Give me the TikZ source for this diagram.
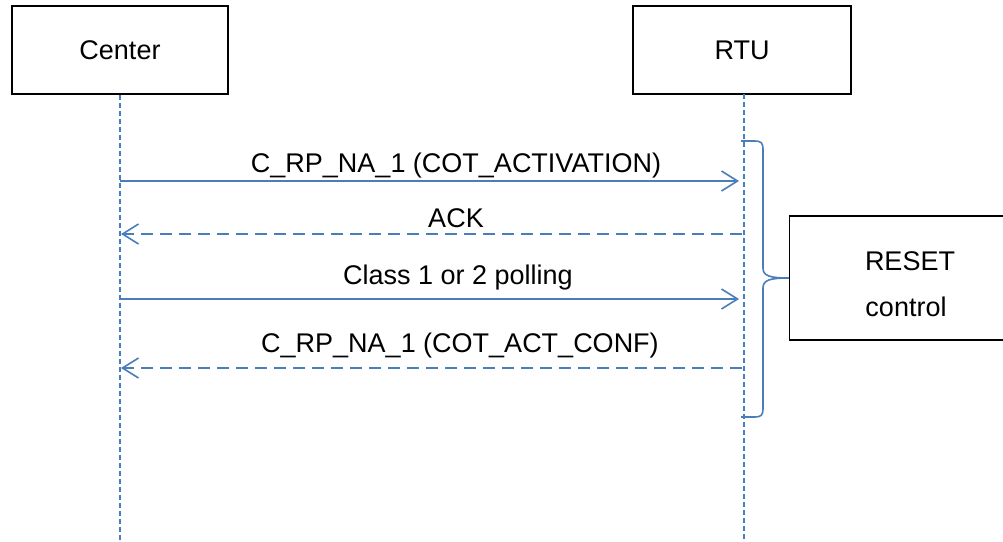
\documentclass[tikz,border=0pt]{standalone}
\usepackage{fontspec}
\setmainfont{Liberation Sans}
\usetikzlibrary{arrows.meta}
\definecolor{seqblue}{HTML}{4A7EBB}
\begin{document}
\begin{tikzpicture}[x=1pt,y=-1pt,
  actor/.style={draw=black,line width=1.4pt,minimum width=216pt,minimum height=88pt,inner sep=0pt,font=\fontsize{27}{30}\selectfont},
  lifeline/.style={draw=seqblue,line width=1.6pt,dash pattern=on 5pt off 3pt},
  msg/.style={draw=seqblue,line width=1.6pt,-{Straight Barb[length=16pt,width=20pt,line width=1.6pt]}},
  reply/.style={msg,dash pattern=on 12pt off 7pt},
  lbl/.style={anchor=base,inner sep=0pt,font=\fontsize{27}{30}\selectfont},
  brace/.style={draw=seqblue,line width=1.6pt,line join=round}]
\clip (0,0) rectangle (1003,541);
\useasboundingbox (0,0) rectangle (1003,541);
\node[actor] (center) at (120,50) {Center};
\node[actor,minimum width=218pt] (rtu) at (742,50) {RTU};
\coordinate (cend) at (120,545);
\coordinate (rend) at (744,545);
\draw[lifeline] (center.south) -- (cend);
\draw[lifeline] (744,94) -- (rend);
% messages
\coordinate (c1) at (120,181); \coordinate (r1) at (739,181);
\coordinate (r2) at (742,234); \coordinate (c2) at (121,234);
\coordinate (c3) at (120,299); \coordinate (r3) at (739,299);
\coordinate (r4) at (742,368); \coordinate (c4) at (121,368);
\draw[msg] (c1) -- (r1);
\draw[reply] (r2) -- (c2);
\draw[msg] (c3) -- (r3);
\draw[reply] (r4) -- (c4);
\node[lbl] (l1) at (456,172) {C\_RP\_NA\_1 (COT\_ACTIVATION)};
\node[lbl] (l2) at (456,227) {ACK};
\node[lbl] (l3) at (458,284) {Class 1 or 2 polling};
\node[lbl] (l4) at (460,352) {C\_RP\_NA\_1 (COT\_ACT\_CONF)};
% brace
\coordinate (btop) at (741,141);
\coordinate (bbot) at (741,417);
\coordinate (btip) at (789,278);
\draw[brace] (btop) -- (755,141) .. controls (761,141) and (763,143) .. (763,149)
  -- (763,268) .. controls (763,276) and (770,278) .. (btip)
  .. controls (770,278) and (763,280) .. (763,288)
  -- (763,409) .. controls (763,415) and (761,417) .. (755,417) -- (bbot);
% reset box
\node[draw=black,line width=1.4pt,minimum width=238pt,minimum height=124pt,inner sep=0pt,
  anchor=west] (reset) at (btip) {};
\node[lbl] (rs1) at (910,270) {RESET};
\node[lbl] (rs2) at (906,316) {control};
\end{tikzpicture}
\end{document}
